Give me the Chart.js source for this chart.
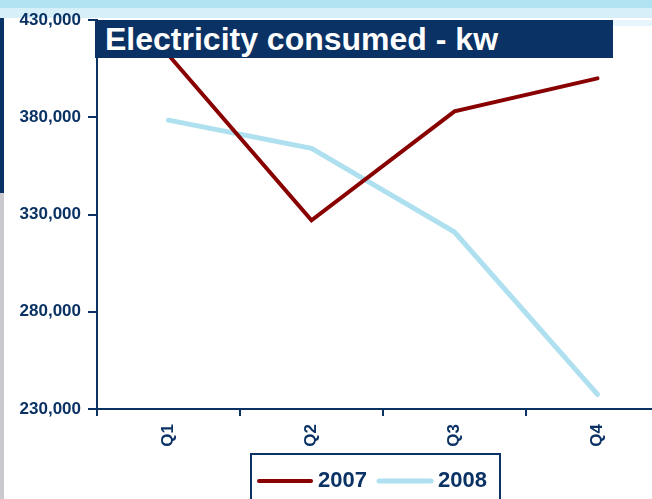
<!DOCTYPE html>
<html>
<head>
<meta charset="utf-8">
<script src="https://cdn.jsdelivr.net/npm/chart.js@4/dist/chart.umd.min.js"></script>
<style>
  html, body { margin:0; padding:0; width:652px; height:499px; overflow:hidden; background:#ffffff; }
  #wrap { position:relative; width:652px; height:499px; overflow:hidden; }
  canvas { position:absolute; left:0; top:0; }
  .band1 { position:absolute; left:0; top:0; width:652px; height:8px; background:#b0e2f2; }
  .band2 { position:absolute; left:0; top:8px; width:652px; height:10px; background:#d7eff9; }
  .band3 { position:absolute; left:612px; top:20px; width:40px; height:6px; background:#e6f6fc; }
  .lbar1 { position:absolute; left:0; top:18px; width:4px; height:175px; background:#0b3264; }
  .lbar2 { position:absolute; left:0; top:193px; width:4px; height:306px; background:#c9c9ce; }
  #title { position:absolute; left:95px; top:20px; width:518px; height:38px; background:#0b3264;
           color:#ffffff; font-family:"Liberation Sans", Arial, sans-serif; font-weight:bold;
           font-size:32px; line-height:38px; padding-left:10px; box-sizing:border-box; white-space:nowrap; }
</style>
</head>
<body>
<div id="wrap">
  <div class="band1"></div>
  <div class="band2"></div>
  <div class="band3"></div>
  <div class="lbar1"></div>
  <div class="lbar2"></div>
  <canvas id="c" width="672" height="499"></canvas>
  <div id="title">Electricity consumed - kw</div>
</div>
<script>
const categories = ["Q1", "Q2", "Q3", "Q4"];
const seriesNames = ["2007", "2008"];
const values2007 = [412000, 327000, 383000, 400000];
const values2008 = [378500, 364000, 321000, 237500];
const yTickValues = [230000, 280000, 330000, 380000, 430000];

const NAVY = "#0b3264";
const FONT = "'Liberation Sans', Arial, sans-serif";

const legendPlugin = {
  id: "boxLegend",
  afterDraw(chart) {
    const ctx = chart.ctx;
    ctx.save();
    ctx.strokeStyle = NAVY;
    ctx.lineWidth = 2;
    ctx.beginPath();
    ctx.moveTo(251, 510);
    ctx.lineTo(251, 454);
    ctx.lineTo(500, 454);
    ctx.lineTo(500, 510);
    ctx.stroke();
    const items = chart.data.datasets;
    const starts = [259, 379];
    ctx.font = "bold 22px " + FONT;
    ctx.textBaseline = "middle";
    ctx.textAlign = "left";
    items.forEach((ds, i) => {
      const x = starts[i];
      ctx.strokeStyle = ds.borderColor;
      ctx.lineWidth = ds.borderWidth;
      ctx.lineCap = "round";
      ctx.beginPath();
      ctx.moveTo(x, 481);
      ctx.lineTo(x + 52, 481);
      ctx.stroke();
      ctx.fillStyle = NAVY;
      ctx.fillText(ds.label, x + 59, 481);
    });
    ctx.restore();
  }
};

new Chart(document.getElementById("c"), {
  type: "line",
  data: {
    labels: categories,
    datasets: [
      { label: seriesNames[0], data: values2007, borderColor: "#880000", borderWidth: 4,
        pointRadius: 0, tension: 0, borderCapStyle: "round", borderJoinStyle: "miter" },
      { label: seriesNames[1], data: values2008, borderColor: "#aee0f0", borderWidth: 5,
        pointRadius: 0, tension: 0, borderCapStyle: "round", borderJoinStyle: "miter" }
    ]
  },
  options: {
    responsive: false,
    animation: false,
    devicePixelRatio: 1,
    layout: { padding: { top: 20, right: 3, left: 0, bottom: 0 } },
    plugins: { legend: { display: false }, title: { display: false }, tooltip: { enabled: false } },
    scales: {
      x: {
        type: "category",
        offset: true,
        afterFit(scale) { scale.height = 90; },
        grid: { offset: true, drawOnChartArea: false, drawTicks: true, tickLength: 7, color: NAVY, lineWidth: 2 },
        border: { display: true, color: NAVY, width: 2 },
        ticks: { autoSkip: false, maxRotation: 90, minRotation: 90, padding: 8, color: NAVY,
                 font: { family: FONT, size: 17, weight: "bold" } }
      },
      y: {
        min: yTickValues[0],
        max: yTickValues[yTickValues.length - 1],
        afterFit(scale) { scale.width = 97; },
        afterBuildTicks(scale) { scale.ticks = yTickValues.map(v => ({ value: v })); },
        grid: { drawOnChartArea: false, drawTicks: true, tickLength: 9, color: NAVY, lineWidth: 2 },
        border: { display: true, color: NAVY, width: 2 },
        ticks: { padding: 7, color: NAVY, font: { family: FONT, size: 17, weight: "bold" },
                 callback: (v) => Number(v).toLocaleString("en-US") }
      }
    }
  },
  plugins: [legendPlugin]
});
</script>
</body>
</html>
